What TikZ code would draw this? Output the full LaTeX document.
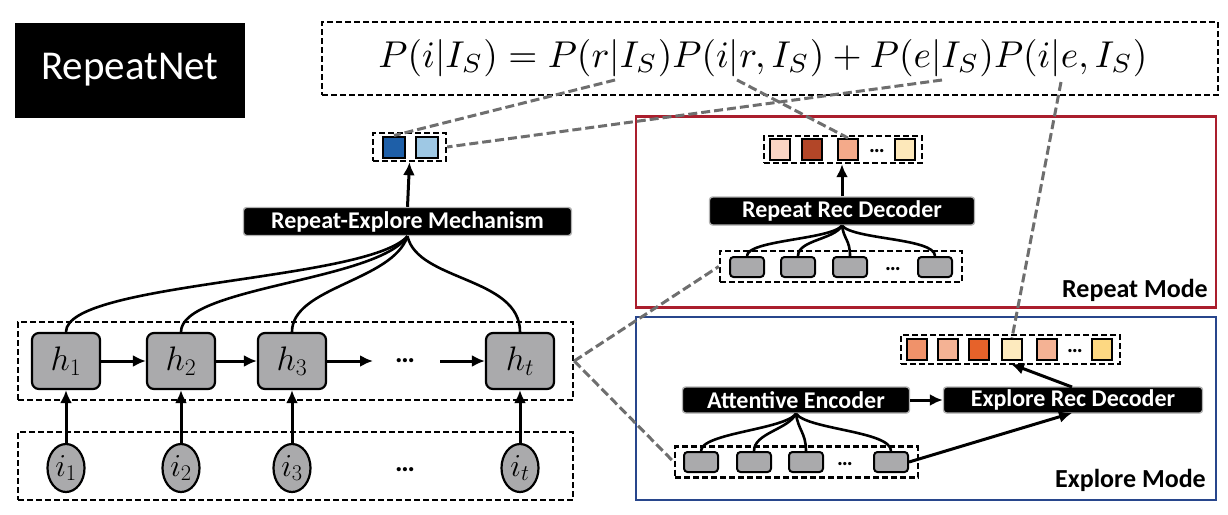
\RequirePackage{fix-cm}
\documentclass[tikz,border=0pt]{standalone}
\usepackage{fontspec}
\usepackage{graphicx}
\setmainfont{Carlito}
\usetikzlibrary{arrows.meta,shapes.geometric}
\definecolor{hgrey}{RGB}{170,170,172}
\definecolor{linegrey}{RGB}{110,110,110}
\definecolor{redbox}{RGB}{170,30,45}
\definecolor{bluebox}{RGB}{40,70,140}
\definecolor{bdark}{RGB}{30,95,168}
\definecolor{blight}{RGB}{158,200,228}
\definecolor{rA}{RGB}{251,213,196}
\definecolor{rB}{RGB}{178,70,40}
\definecolor{rC}{RGB}{244,170,138}
\definecolor{rD}{RGB}{253,232,186}
\definecolor{eA}{RGB}{240,146,106}
\definecolor{eB}{RGB}{244,178,148}
\definecolor{eC}{RGB}{230,98,42}
\definecolor{eD}{RGB}{253,234,190}
\definecolor{eE}{RGB}{244,178,148}
\definecolor{eF}{RGB}{253,216,130}
\begin{document}
\begin{tikzpicture}[x=1pt,y=-1pt,
  blackbox/.style={fill=black, draw=gray!60, line width=1.4pt, rounded corners=3pt, text=white, font=\bfseries\fontsize{24}{26}\selectfont, inner sep=0pt},
  dbox/.style={draw, dash pattern=on 6pt off 3pt, line width=2.4pt, inner sep=0pt},
  hnode/.style={draw, fill=hgrey, rounded corners=7pt, line width=2.2pt, minimum width=68pt, minimum height=56pt, inner sep=0pt, font=\fontsize{34}{36}\selectfont},
  inode/.style={draw, fill=hgrey, ellipse, line width=2.2pt, minimum width=37pt, minimum height=48pt, inner sep=0pt, font=\fontsize{32}{34}\selectfont},
  gnode/.style={draw, fill=hgrey, rounded corners=3.5pt, line width=2pt, minimum width=34pt, minimum height=20pt, inner sep=0pt},
  sq/.style={draw, line width=2pt, minimum width=20pt, minimum height=21pt, inner sep=0pt},
  arr/.style={-{Latex[length=13pt,width=12pt]}, line width=3pt},
  conn/.style={line width=2.6pt},
  gline/.style={draw=linegrey, line width=3pt, dash pattern=on 9pt off 4pt},
  modelabel/.style={font=\bfseries\fontsize{26}{30}\selectfont, anchor=south east, inner sep=0pt},
  dots/.style={font=\bfseries\fontsize{22}{24}\selectfont, inner sep=0pt},
  bigdots/.style={font=\bfseries\fontsize{28}{30}\selectfont, inner sep=0pt}
]
\useasboundingbox (0,0) rectangle (1228,514);

% title
\node[fill=black, minimum width=230pt, minimum height=95pt, inner sep=0pt, text=white, font=\fontsize{41}{44}\selectfont] (title) at (130,70) {RepeatNet};

% formula
\node[dbox, minimum width=896pt, minimum height=73pt] (fbox) at (770,58.5) {};
\node[inner sep=0pt] (formula) at (763,58) {\resizebox{769pt}{!}{$P(i|I_S)=P(r|I_S)P(i|r,I_S)+P(e|I_S)P(i|e,I_S)$}};
\coordinate (fR) at (615,80);
\coordinate (fIR) at (737,80);
\coordinate (fE) at (942,80);
\coordinate (fIE) at (1061,82);

% mode boxes
\node[draw=redbox, line width=2.2pt, minimum width=580pt, minimum height=191pt, inner sep=0pt] (rmode) at (926,212) {};
\node[draw=bluebox, line width=2.2pt, minimum width=580pt, minimum height=183pt, inner sep=0pt] (emode) at (926,408.5) {};
\node[modelabel] (rlabel) at (1208,302) {Repeat Mode};
\node[modelabel] (elabel) at (1206,492) {Explore Mode};

% left: small output
\node[dbox, minimum width=73pt, minimum height=28pt] (sbox) at (409.5,147) {};
\node[sq, fill=bdark, minimum width=22pt] (s1) at (394,147) {};
\node[sq, fill=blight, minimum width=22pt] (s2) at (427,147) {};

% mechanism
\node[blackbox, minimum width=328pt, minimum height=28pt] (mech) at (407.5,221.5) {Repeat-Explore Mechanism};
\draw[arr] (mech.north) -- (sbox.south);

% h row
\node[dbox, minimum width=555pt, minimum height=78pt] (hbox) at (295.5,361) {};
\node[hnode] (h1) at (66,361) {$h_1$};
\node[hnode] (h2) at (181,361) {$h_2$};
\node[hnode] (h3) at (292,361) {$h_3$};
\node[hnode] (ht) at (520,361) {$h_t$};
\node[bigdots] (hd) at (405,361) {…};
\coordinate (h3end) at (373,361);
\coordinate (htstart) at (440,361);
\draw[arr] (h1.east) -- (h2.west);
\draw[arr] (h2.east) -- (h3.west);
\draw[arr] (h3.east) -- (h3end);
\draw[arr] (htstart) -- (ht.west);

% i row
\node[dbox, minimum width=555pt, minimum height=68pt] (ibox) at (295.5,466) {};
\node[inode] (i1) at (66,468) {$i_1$};
\node[inode] (i2) at (181,468) {$i_2$};
\node[inode] (i3) at (292,468) {$i_3$};
\node[inode] (it) at (520,468) {$i_t$};
\node[bigdots] (id) at (405,470) {…};
\draw[arr] (i1.north) -- (h1.south);
\draw[arr] (i2.north) -- (h2.south);
\draw[arr] (i3.north) -- (h3.south);
\draw[arr] (it.north) -- (ht.south);

% curves to mechanism
\draw[conn] (h1.north) .. controls +(0,-50) and +(-40,45) .. (mech.south);
\draw[conn] (h2.north) .. controls +(0,-45) and +(-30,45) .. (mech.south);
\draw[conn] (h3.north) .. controls +(0,-45) and +(-15,45) .. (mech.south);
\draw[conn] (ht.north) .. controls +(0,-55) and +(10,45) .. (mech.south);

% repeat mode
\node[dbox, minimum width=158pt, minimum height=27pt] (rout) at (843,149.5) {};
\node[sq, fill=rA] (rq1) at (780,149.5) {};
\node[sq, fill=rB] (rq2) at (812,149.5) {};
\node[sq, fill=rC] (rq3) at (848,149.5) {};
\node[dots] (rqd) at (877,151) {…};
\node[sq, fill=rD] (rq5) at (905,149.5) {};
\node[blackbox, minimum width=265pt, minimum height=28pt] (rdec) at (842,211) {Repeat Rec Decoder};
\draw[arr] (rdec.north) -- (rout.south -| rdec.north);
\node[dbox, minimum width=242pt, minimum height=31pt] (rg) at (841,266.5) {};
\node[gnode] (rg1) at (747,267) {};
\node[gnode] (rg2) at (798,267) {};
\node[gnode] (rg3) at (850,267) {};
\node[dots] (rgd) at (893,269) {…};
\node[gnode] (rg5) at (935,267) {};
\draw[conn] (rg1.north) .. controls +(0,-16) and +(-12,14) .. (rdec.south);
\draw[conn] (rg2.north) .. controls +(0,-16) and +(-8,14) .. (rdec.south);
\draw[conn] (rg3.north) .. controls +(0,-16) and +(2,14) .. (rdec.south);
\draw[conn] (rg5.north) .. controls +(0,-18) and +(12,14) .. (rdec.south);

% explore mode
\node[dbox, minimum width=219pt, minimum height=29pt] (eout) at (1010.5,349.5) {};
\node[sq, fill=eA] (eq1) at (917,349.5) {};
\node[sq, fill=eB] (eq2) at (948,349.5) {};
\node[sq, fill=eC] (eq3) at (979,349.5) {};
\node[sq, fill=eD] (eq4) at (1012,349.5) {};
\node[sq, fill=eE] (eq5) at (1047,349.5) {};
\node[dots] (eqd) at (1075,351) {…};
\node[sq, fill=eF] (eq7) at (1102,349.5) {};
\node[blackbox, minimum width=227pt, minimum height=26pt] (att) at (796,400) {Attentive Encoder};
\node[blackbox, minimum width=259pt, minimum height=26pt] (edec) at (1073,400) {Explore Rec Decoder};
\draw[arr] (att.east) -- (edec.west);
\coordinate (edtop) at (1072,387);
\coordinate (eoutbot) at (1011,364);
\draw[arr] (edtop) -- (eoutbot);
\node[dbox, minimum width=243pt, minimum height=31pt] (eg) at (796.5,462) {};
\node[gnode] (eg1) at (701,462) {};
\node[gnode] (eg2) at (754,462) {};
\node[gnode] (eg3) at (806,462) {};
\node[dots] (egd) at (845,464) {…};
\node[gnode] (eg5) at (891,462) {};
\draw[conn] (eg1.north) .. controls +(0,-18) and +(-12,16) .. (att.south);
\draw[conn] (eg2.north) .. controls +(0,-18) and +(-8,16) .. (att.south);
\draw[conn] (eg3.north) .. controls +(0,-18) and +(2,16) .. (att.south);
\draw[conn] (eg5.north) .. controls +(0,-20) and +(12,16) .. (att.south);
\coordinate (edbot) at (1072,413);
\draw[arr] (eg5.east) -- (edbot);

% grey dashed links
\draw[gline] (fR) -- (s1.north);
\draw[gline] (fE) -- (sbox.east);
\draw[gline] (fIR) -- (rq3.north);
\draw[gline] (fIE) -- (eq4.north);
\draw[gline] (hbox.east) -- (rg.west);
\draw[gline] (hbox.east) -- (eg.west);
\end{tikzpicture}
\end{document}
